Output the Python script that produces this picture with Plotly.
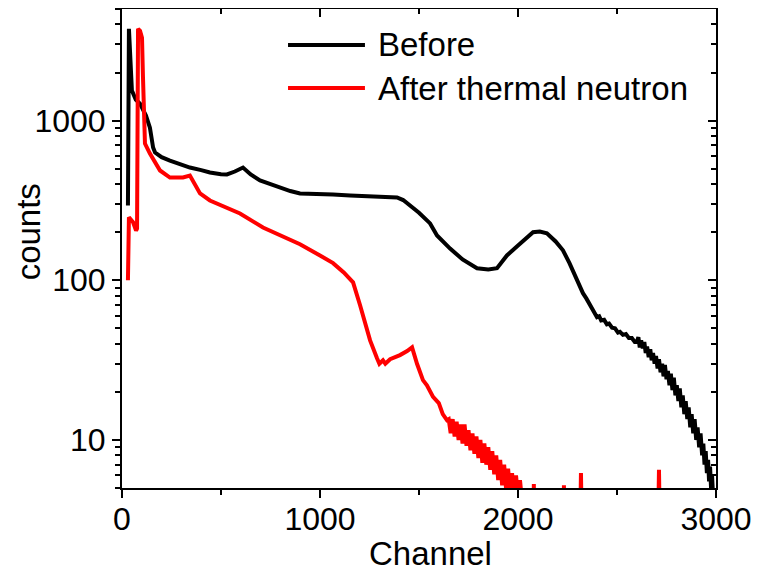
import math
import plotly.graph_objects as go

# ---------------- data ----------------
before_channel = [30, 35, 50, 70, 91, 121, 141, 157, 167, 200, 242, 300, 343, 400, 444, 500,
                  530, 570, 611, 650, 697, 750, 798, 850, 899, 1000, 1066, 1152, 1250, 1330,
                  1389, 1420, 1455, 1500, 1556, 1591, 1657, 1720, 1793, 1850, 1894, 1944, 2000,
                  2076, 2110, 2146, 2190, 2227, 2260, 2298, 2328, 2345, 2360, 2380, 2399, 2410,
                  2420, 2435, 2449, 2460, 2475, 2490, 2505, 2515, 2530, 2545, 2560, 2575, 2590,
                  2600, 2608, 2615, 2622, 2630, 2638, 2645, 2652, 2660, 2668, 2675, 2682, 2690,
                  2697, 2705, 2712, 2720, 2728, 2735, 2742, 2750, 2757, 2765, 2772, 2780, 2787,
                  2795, 2802, 2810, 2817, 2825, 2832, 2840, 2847, 2855, 2862, 2870, 2877, 2885,
                  2892, 2900, 2907, 2915, 2922, 2930, 2936, 2942, 2948, 2954, 2960, 2965, 2970,
                  2975, 2980, 2985]
before_counts = [294, 3758, 1540, 1350, 1277, 1075, 904, 678, 631, 590, 562, 530, 508, 490, 473,
                 462, 460, 480, 508, 460, 422, 400, 381, 362, 350, 348, 345, 340, 337, 335,
                 330, 318, 294, 265, 227, 191, 158, 135, 119, 117, 119, 143, 165,
                 200, 202, 197, 175, 154, 128, 100, 83, 77, 71, 64, 58.7, 59.5,
                 56, 56.5, 53, 53.5, 50.5, 50, 47, 47.5, 45.5, 46, 43.5, 43.5, 41,
                 41, 44, 38, 42, 37.5, 41, 35, 38.5, 33, 37, 31.5, 35, 30,
                 33.5, 28, 32, 26.5, 30, 25, 29.5, 24, 27, 22, 26, 20.5, 24.5,
                 19, 22, 17.5, 21, 16, 19, 14.5, 17.5, 13.5, 16, 12, 14.5, 11,
                 13.5, 10, 12, 9, 11, 8, 9.5, 7, 8.5, 6.2, 7.5, 5.5, 6.8,
                 5, 6, 4.5]

after_channel = [30, 35, 56, 71, 76, 81, 91, 101, 106, 116, 141, 192, 242, 308, 343, 394, 444,
                 596, 712, 800, 899, 1000, 1066, 1120, 1167, 1202, 1253, 1288, 1300, 1318, 1330,
                 1354, 1380, 1404, 1440, 1465, 1490, 1520, 1540, 1571, 1600, 1620, 1641,
                 1650, 1660, 1670, 1680, 1690, 1700, 1710, 1720, 1730, 1740, 1750, 1760, 1770,
                 1780, 1790, 1800, 1810, 1820, 1830, 1840, 1850, 1860, 1870, 1880, 1890, 1900,
                 1910, 1920, 1930, 1940, 1950, 1960, 1970, 1980, 1990, 2000, 2010, 2020, 2030,
                 2040, 2078, 2080, 2082, 2230, 2232, 2234, 2314, 2318, 2322, 2708, 2712, 2716,
                 3000]
after_counts = [100, 248, 231, 205, 211, 3758, 3650, 3300, 1862, 718, 622, 487, 440, 440, 453,
                350, 316, 262, 214, 190, 168, 143, 128, 112, 97, 70, 42, 32.5, 30, 31.5, 30,
                32, 33, 34, 36, 38, 30, 23.7, 22, 18.6, 17, 14.5, 13.3,
                13.5, 11, 13.5, 10.5, 13, 10, 12.5, 9.5, 12.5, 9.2, 11.5, 8.6, 11,
                8.2, 10.5, 7.7, 10, 7.2, 9.5, 7, 9, 6.5, 8.5, 6.1, 8, 5.6,
                7.5, 5.2, 7, 4.9, 6.6, 4.7, 6.2, 4.5, 6, 4.4, 5.6, 4.2, 4,
                3, 3, 5.3, 3, 3, 5.2, 3, 3, 6.2, 3, 3, 6.5, 3,
                3]

series_names = ["Before", "After thermal neutron"]
series_colors = ["#000000", "#ff0000"]

x_tick_vals = [0, 1000, 2000, 3000]
x_tick_text = ["0", "1000", "2000", "3000"]
x_minor_vals = [500, 1500, 2500]
y_tick_vals = [10, 100, 1000]
y_tick_text = ["10", "100", "1000"]
y_minor_vals = [m * 10 ** e for e in range(0, 4) for m in range(2, 10)]

x_title = "Channel"
y_title = "counts"
x_range = [0, 3000]
y_range = [math.log10(5), math.log10(5000)]

FONT = "Liberation Sans, Arial, sans-serif"
FS = 32

fig = go.Figure()
fig.add_trace(go.Scatter(x=before_channel, y=before_counts, mode="lines",
                         line=dict(color=series_colors[0], width=4), name=series_names[0],
                         showlegend=False))
fig.add_trace(go.Scatter(x=after_channel, y=after_counts, mode="lines",
                         line=dict(color=series_colors[1], width=4), name=series_names[1],
                         showlegend=False))
# empty helper trace so the mirrored (top/right) axes get drawn
fig.add_trace(go.Scatter(x=[], y=[], xaxis="x2", yaxis="y2", showlegend=False,
                         hoverinfo="skip"))

axis_common = dict(showline=True, linecolor="black", linewidth=2, showgrid=False,
                   zeroline=False, tickcolor="black", tickwidth=2, automargin=False,
                   tickfont=dict(family=FONT, size=FS, color="black"))

fig.update_layout(
    template="none",
    width=752, height=568,
    margin=dict(l=114, r=44, t=1, b=88),
    paper_bgcolor="white", plot_bgcolor="white",
    font=dict(family=FONT, size=FS, color="black"),
    xaxis=dict(range=x_range, tickmode="array", tickvals=x_tick_vals, ticktext=x_tick_text,
               ticks="outside", ticklen=8, ticklabelstandoff=-6,
               minor=dict(tickmode="array", tickvals=x_minor_vals, ticks="outside", ticklen=5,
                          tickwidth=2, tickcolor="black"),
               **axis_common),
    yaxis=dict(type="log", range=y_range, tickmode="array", tickvals=y_tick_vals,
               ticktext=y_tick_text, ticks="outside", ticklen=8,
               minor=dict(tickmode="array", tickvals=y_minor_vals, ticks="outside", ticklen=5,
                          tickwidth=2, tickcolor="black"),
               **axis_common),
    xaxis2=dict(range=x_range, overlaying="x", side="top", anchor="y",
                tickmode="array", tickvals=x_tick_vals, ticks="inside", ticklen=8,
                showticklabels=False,
                minor=dict(tickmode="array", tickvals=x_minor_vals, ticks="inside", ticklen=5,
                           tickwidth=2, tickcolor="black"),
                **axis_common),
    yaxis2=dict(type="log", range=y_range, overlaying="y", side="right", anchor="x",
                tickmode="array", tickvals=y_tick_vals, ticks="inside", ticklen=8,
                showticklabels=False,
                minor=dict(tickmode="array", tickvals=y_minor_vals, ticks="inside", ticklen=5,
                           tickwidth=2, tickcolor="black"),
                **axis_common),
    showlegend=False,
)

# axis titles
fig.add_annotation(text=x_title, xref="paper", yref="paper", x=0.52, y=-0.136,
                   xanchor="center", yanchor="middle", showarrow=False,
                   font=dict(family=FONT, size=33, color="black"))
fig.add_annotation(text=y_title, xref="paper", yref="paper", x=-0.158, y=0.534,
                   xanchor="center", yanchor="middle", showarrow=False, textangle=-90,
                   font=dict(family=FONT, size=33, color="black"))

# legend (drawn manually to match the long line samples)
legend_rows = [(0.925, 0), (0.835, 1)]
for ypos, i in legend_rows:
    fig.add_shape(type="line", xref="paper", yref="paper", x0=0.2795, x1=0.409,
                  y0=ypos, y1=ypos, line=dict(color=series_colors[i], width=4))
    fig.add_annotation(text=series_names[i], xref="paper", yref="paper", x=0.428, y=ypos,
                       xanchor="left", yanchor="middle", showarrow=False,
                       font=dict(family=FONT, size=33, color="black"))

fig.write_html("out.html")
